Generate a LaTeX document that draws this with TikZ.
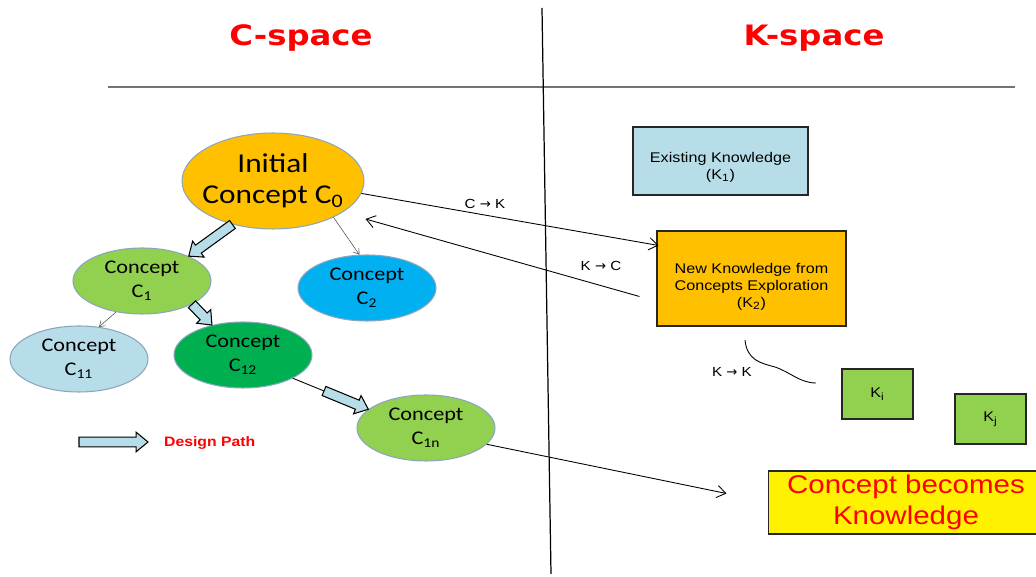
\documentclass[tikz,border=0pt]{standalone}
\usepackage{fontspec}
\setmainfont[FakeStretch=1.15]{Carlito}
\newfontfamily\arialfont[FakeStretch=1.15]{Liberation Sans}
\newfontfamily\titlefont[FakeStretch=1.15]{DejaVu Sans}
\newfontfamily\arrowfont{DejaVu Sans}
\usepackage{tikz}
\usetikzlibrary{calc,shapes.geometric,arrows.meta}

\definecolor{corange}{HTML}{FFC000}
\definecolor{cgreen}{HTML}{92D050}
\definecolor{cdark}{HTML}{00B050}
\definecolor{cblue}{HTML}{00B0F0}
\definecolor{clight}{HTML}{B7DEE8}
\definecolor{cborder}{RGB}{140,165,190}

\newcommand{\designpath}[2]{%
\draw[dpath] let \p1=(#1), \p2=(#2), \n1={atan2(\y2-\y1,\x2-\x1)}, \n2={veclen(\x2-\x1,\y2-\y1)} in
[shift={(\p1)}, rotate=\n1]
(0pt,-2.8pt) -- ({\n2-6.8pt},-2.8pt) -- ({\n2-6.8pt},-5.6pt) -- (\n2,0pt)
-- ({\n2-6.8pt},5.6pt) -- ({\n2-6.8pt},2.8pt) -- (0pt,2.8pt) -- cycle;}
\newcommand{\ra}{{\arrowfont →}}

\begin{document}
\begin{tikzpicture}[x=0.02cm, y=-0.02cm,
  concept/.style={ellipse, draw=cborder, line width=0.6pt, inner sep=0pt,
    minimum width=2.76cm, minimum height=1.32cm, align=center,
    font=\fontsize{11}{13.5}\selectfont},
  kbox/.style={rectangle, draw=black!85, line width=0.6pt, inner sep=0pt,
    align=center, font=\arialfont\fontsize{8}{9.6}\selectfont},
  title/.style={anchor=base, text=red, font=\titlefont\bfseries\fontsize{16}{19}\selectfont},
  lbl/.style={font=\arialfont\fontsize{7.5}{9}\selectfont},
  dpath/.style={draw=black, fill=clight, line width=0.6pt},
  flow/.style={line width=0.5pt, -{Straight Barb[length=5pt,width=7pt]}},
  branch/.style={line width=0.3pt, draw=black!70, -{Straight Barb[length=3pt,width=4pt]}}]
\useasboundingbox (0,0) rectangle (1036,577);

\node[title] (cspace) at (301,46) {C-space};
\node[title] (kspace) at (814,46) {K-space};
\coordinate (h1) at (108,87);
\coordinate (h2) at (1015,87);
\coordinate (v1) at (542,8);
\coordinate (v2) at (551,574);
\draw[line width=0.8pt, black!55] (h1) -- (h2);
\draw[line width=0.7pt] (v1) -- (v2);

\node[concept, fill=corange, minimum width=3.64cm, minimum height=1.92cm, inner xsep=-22pt,
  font=\fontsize{15.5}{17.6}\selectfont] (c0) at (273,181) {Initial\\Concept C\textsubscript{0}};
\node[concept, fill=cgreen] (c1) at (142,281) {Concept\\C\textsubscript{1}};
\node[concept, fill=cblue] (c2) at (367,288) {Concept\\C\textsubscript{2}};
\node[concept, fill=clight] (c11) at (79,359) {Concept\\C\textsubscript{11}};
\node[concept, fill=cdark] (c12) at (243,355) {Concept\\C\textsubscript{12}};
\node[concept, fill=cgreen] (c1n) at (426,428) {Concept\\C\textsubscript{1n}};

\node[kbox, fill=clight, minimum width=3.5cm, minimum height=1.36cm] (k1) at (720.5,161)
  {\rule{0pt}{13pt}Existing Knowledge\\(K\textsubscript{1})};
\node[kbox, fill=corange, minimum width=3.78cm, minimum height=1.9cm] (k2) at (751.5,278.5)
  {\rule{0pt}{15pt}New Knowledge from\\Concepts Exploration\\(K\textsubscript{2})};
\node[kbox, fill=cgreen, minimum width=1.42cm, minimum height=1cm] (ki) at (877.5,394) {K\textsubscript{i}};
\node[kbox, fill=cgreen, minimum width=1.42cm, minimum height=1cm] (kj) at (990.5,419) {K\textsubscript{j}};
\node[kbox, fill=yellow, text=red, minimum width=5.52cm, minimum height=1.26cm,
  font=\arialfont\fontsize{14.6}{17.6}\selectfont] (ckn) at (906,502.5) {Concept becomes\\Knowledge};

\node[lbl] (ck) at (485,204) {C \ra{} K};
\node[lbl] (kc) at (601,266) {K \ra{} C};
\node[lbl] (kk) at (732,372) {K \ra{} K};

\draw[flow] (c0.-8) -- ($(k2.north west)+(2,15)$);
\draw[flow] ($(k2.west)+(-17,18)$) -- ($(c0.east)+(1,38)$);
\draw[flow] (c1n.-15) -- ($(ckn.west)+(-41,-9)$);
\draw[branch] (c0.-31) -- (c2.103);
\draw[branch] (c1.230) -- (c11.58);

\designpath{c0.227}{c1.28}
\designpath{c1.-25}{c12.136}
\coordinate (bend) at (324,391);
\draw[line width=0.5pt] (c12.-25) -- (bend);
\designpath{bend}{c1n.162}

\coordinate (kka) at (745,340);
\coordinate (kkb) at (816,383);
\draw[line width=0.5pt] (kka) .. controls (747,360) and (760,363) .. (775,367)
  .. controls (790,372) and (800,383) .. (kkb);

\coordinate (lga) at (79,442);
\coordinate (lgb) at (148,442);
\designpath{lga}{lgb}
\node[anchor=west, text=red, font=\arialfont\bfseries\fontsize{7.8}{9}\selectfont] (legend) at (158,443) {Design Path};
\end{tikzpicture}
\end{document}
